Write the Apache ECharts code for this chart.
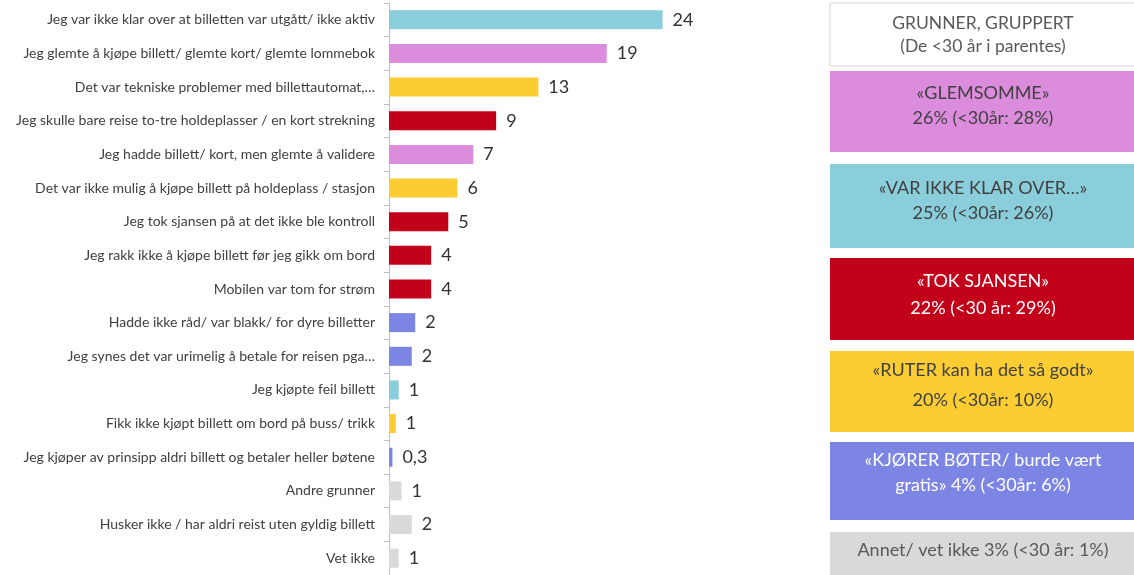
<!DOCTYPE html>
<html>
<head>
<meta charset="utf-8">
<script src="https://cdn.jsdelivr.net/npm/echarts@6/dist/echarts.min.js"></script>
<style>
  html, body { margin: 0; padding: 0; background: #fff; }
  #main { width: 1134px; height: 575px; }
</style>
</head>
<body>
<div id="main"></div>
<script>
// grunner for å reise uten gyldig billett
var categories = [
  'Jeg var ikke klar over at billetten var utgått/ ikke aktiv',
  'Jeg glemte å kjøpe billett/ glemte kort/ glemte lommebok',
  'Det var tekniske problemer med billettautomat,…',
  'Jeg skulle bare reise to-tre holdeplasser / en kort strekning',
  'Jeg hadde billett/ kort, men glemte å validere',
  'Det var ikke mulig å kjøpe billett på holdeplass / stasjon',
  'Jeg tok sjansen på at det ikke ble kontroll',
  'Jeg rakk ikke å kjøpe billett før jeg gikk om bord',
  'Mobilen var tom for strøm',
  'Hadde ikke råd/ var blakk/ for dyre billetter',
  'Jeg synes det var urimelig å betale for reisen pga…',
  'Jeg kjøpte feil billett',
  'Fikk ikke kjøpt billett om bord på buss/ trikk',
  'Jeg kjøper av prinsipp aldri billett og betaler heller bøtene',
  'Andre grunner',
  'Husker ikke / har aldri reist uten gyldig billett',
  'Vet ikke'
];
var values = [24, 19.1, 13.1, 9.4, 7.4, 6, 5.2, 3.7, 3.7, 2.3, 2, 0.85, 0.6, 0.3, 1.1, 2, 0.85];
var valueLabels = ['24', '19', '13', '9', '7', '6', '5', '4', '4', '2', '2', '1', '1', '0,3', '1', '2', '1'];
var groups = ['klar', 'glem', 'ruter', 'sjanse', 'glem', 'ruter', 'sjanse', 'sjanse', 'sjanse',
  'boter', 'boter', 'klar', 'ruter', 'boter', 'annet', 'annet', 'annet'];

var groupColors = {
  glem: '#dc8cdc',
  klar: '#8acddb',
  sjanse: '#c3001a',
  ruter: '#fbcd32',
  boter: '#7c84e4',
  annet: '#d9d9d9'
};

// boksene til høyre: [gruppe, linje 1, linje 2]
var groupBoxes = [
  ['glem', '«GLEMSOMME»', '26% (<30år: 28%)'],
  ['klar', '«VAR IKKE KLAR OVER…»', '25% (<30år: 26%)'],
  ['sjanse', '«TOK SJANSEN»', '22% (<30 år: 29%)'],
  ['ruter', '«RUTER kan ha det så godt»', '20% (<30år: 10%)'],
  ['boter', '«KJØRER BØTER/ burde vært', 'gratis» 4% (<30år: 6%)'],
  ['annet', 'Annet/ vet ikke 3% (<30 år: 1%)', '']
];
var boxHeader = ['GRUNNER, GRUPPERT', '(De <30 år i parentes)'];

var myChart = echarts.init(document.getElementById('main'));

var font = 'Lato, "Open Sans", sans-serif';
var boxTop = [71, 164, 258, 351, 442, 532];
var boxH = [81, 84, 82, 81, 78, 50];
var line1 = [22, 24, 23, 19, 18, 18];
var line2 = [47, 49, 50, 49, 43, 0];
var whiteText = { sjanse: true, boter: true };

var graphics = [{
  type: 'rect',
  shape: { x: 830, y: 3, width: 310, height: 63 },
  style: { fill: '#fff', stroke: '#d9d9d9', lineWidth: 1 }
}, {
  type: 'text',
  style: { x: 983, y: 23, text: boxHeader[0], font: '17.5px ' + font, fill: '#595959', align: 'center', verticalAlign: 'middle' }
}, {
  type: 'text',
  style: { x: 983, y: 46, text: boxHeader[1], font: '17.5px ' + font, fill: '#595959', align: 'center', verticalAlign: 'middle' }
}];

groupBoxes.forEach(function (b, i) {
  var y = boxTop[i];
  var col = whiteText[b[0]] ? '#ffffff' : (b[0] === 'annet' ? '#595959' : '#404040');
  graphics.push({
    type: 'rect',
    shape: { x: 830, y: y, width: 310, height: boxH[i] },
    style: { fill: groupColors[b[0]] }
  });
  graphics.push({
    type: 'text',
    style: { x: 983, y: y + line1[i], text: b[1], font: '18px ' + font, fill: col, align: 'center', verticalAlign: 'middle' }
  });
  if (b[2]) {
    graphics.push({
      type: 'text',
      style: { x: 983, y: y + line2[i], text: b[2], font: '18px ' + font, fill: col, align: 'center', verticalAlign: 'middle' }
    });
  }
});

var barData = values.map(function (v, i) {
  return { value: v, itemStyle: { color: groupColors[groups[i]] } };
});

var option = {
  animation: false,
  backgroundColor: '#ffffff',
  grid: { left: 389, top: 3, width: 456, height: 574 },
  xAxis: {
    type: 'value',
    min: 0,
    max: 40,
    show: false
  },
  yAxis: {
    type: 'category',
    inverse: true,
    data: categories,
    axisLine: { show: true, lineStyle: { color: '#bfbfbf', width: 1 } },
    axisTick: { show: true, length: 5, lineStyle: { color: '#bfbfbf' } },
    axisLabel: {
      margin: 14,
      fontFamily: font,
      fontSize: 14,
      color: '#404040'
    }
  },
  series: [{
    type: 'bar',
    data: barData,
    barWidth: 19,
    label: {
      show: true,
      position: 'right',
      distance: 10,
      fontFamily: font,
      fontSize: 18,
      color: '#333333',
      formatter: function (p) { return valueLabels[p.dataIndex]; }
    }
  }],
  graphic: graphics
};

myChart.setOption(option);
</script>
</body>
</html>
